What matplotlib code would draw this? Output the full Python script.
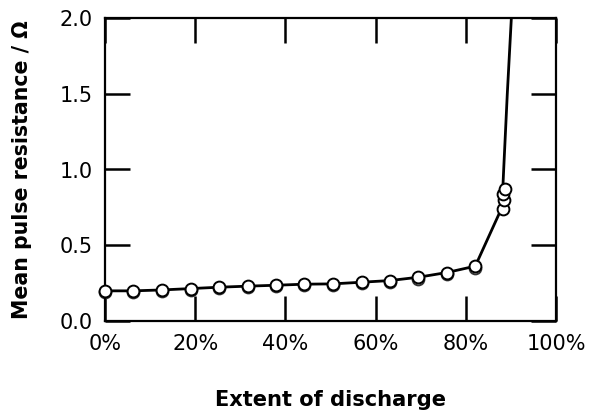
import matplotlib
matplotlib.use("Agg")
import matplotlib.pyplot as plt

# Pulse-resistance measurements vs. depth of discharge (two replicate cells)
discharge_a = [0.0, 6.3, 12.6, 19.0, 25.3, 31.6, 37.9, 44.2, 50.5, 56.9, 63.2, 69.5, 75.8, 82.1,
               88.2, 88.4, 88.2, 88.7]
resistance_a = [0.199, 0.199, 0.205, 0.214, 0.223, 0.230, 0.236, 0.243, 0.245, 0.256, 0.267,
                0.289, 0.320, 0.366, 0.742, 0.801, 0.839, 0.872]

discharge_b = [0.0, 6.3, 12.6, 19.0, 25.3, 31.6, 37.9, 44.2, 50.5, 56.9, 63.2, 69.5, 75.8, 82.1]
resistance_b = [0.193, 0.193, 0.199, 0.207, 0.216, 0.223, 0.229, 0.236, 0.238, 0.249, 0.259,
                0.280, 0.310, 0.349]

# Smoothed trend through the measurements
trend_x = [0.0, 6.3, 12.6, 19.0, 25.3, 31.6, 37.9, 44.2, 50.5, 56.9, 63.2, 69.5, 75.8, 82.1,
           87.8, 88.2, 88.4, 89.2, 90.1, 90.5]
trend_y = [0.199, 0.199, 0.205, 0.214, 0.223, 0.230, 0.236, 0.243, 0.245, 0.256, 0.267,
           0.289, 0.320, 0.362, 0.735, 0.87, 1.0, 1.5, 2.0, 2.2]

x_ticks = [0, 20, 40, 60, 80, 100]
x_tick_labels = ["0%", "20%", "40%", "60%", "80%", "100%"]
y_ticks = [0.0, 0.5, 1.0, 1.5, 2.0]
y_tick_labels = ["0.0", "0.5", "1.0", "1.5", "2.0"]

plt.rcParams["font.family"] = ["DejaVu Sans"]

fig = plt.figure(figsize=(5.9, 4.11), dpi=100)
ax = fig.add_axes([105 / 590, 1 - 321 / 411, 451 / 590, 303 / 411])

marker_style = dict(linestyle="none", marker="o", markersize=8.5,
                    markerfacecolor="white", markeredgewidth=1.4, clip_on=False)

ax.plot(discharge_b, resistance_b, markeredgecolor="#333333", zorder=2, **marker_style)
ax.plot(trend_x, trend_y, color="black", linewidth=2.0, zorder=3)
ax.plot(discharge_a, resistance_a, markeredgecolor="black", zorder=4, **marker_style)

ax.set_xlim(0, 100)
ax.set_ylim(0, 2.0)
ax.set_xticks(x_ticks)
ax.set_xticklabels(x_tick_labels)
ax.set_yticks(y_ticks)
ax.set_yticklabels(y_tick_labels)

ax.tick_params(axis="both", direction="in", length=18, width=1.8, labelsize=15,
               top=True, right=True, color="black")
ax.tick_params(axis="x", pad=9)
ax.tick_params(axis="y", pad=9)

for spine in ax.spines.values():
    spine.set_linewidth(1.6)

ax.set_xlabel("Extent of discharge", fontsize=15.1, fontweight="bold", labelpad=26)
ax.set_ylabel("Mean pulse resistance / Ω", fontsize=14.8, fontweight="bold", labelpad=20)

fig.savefig("out.png", dpi=100)
